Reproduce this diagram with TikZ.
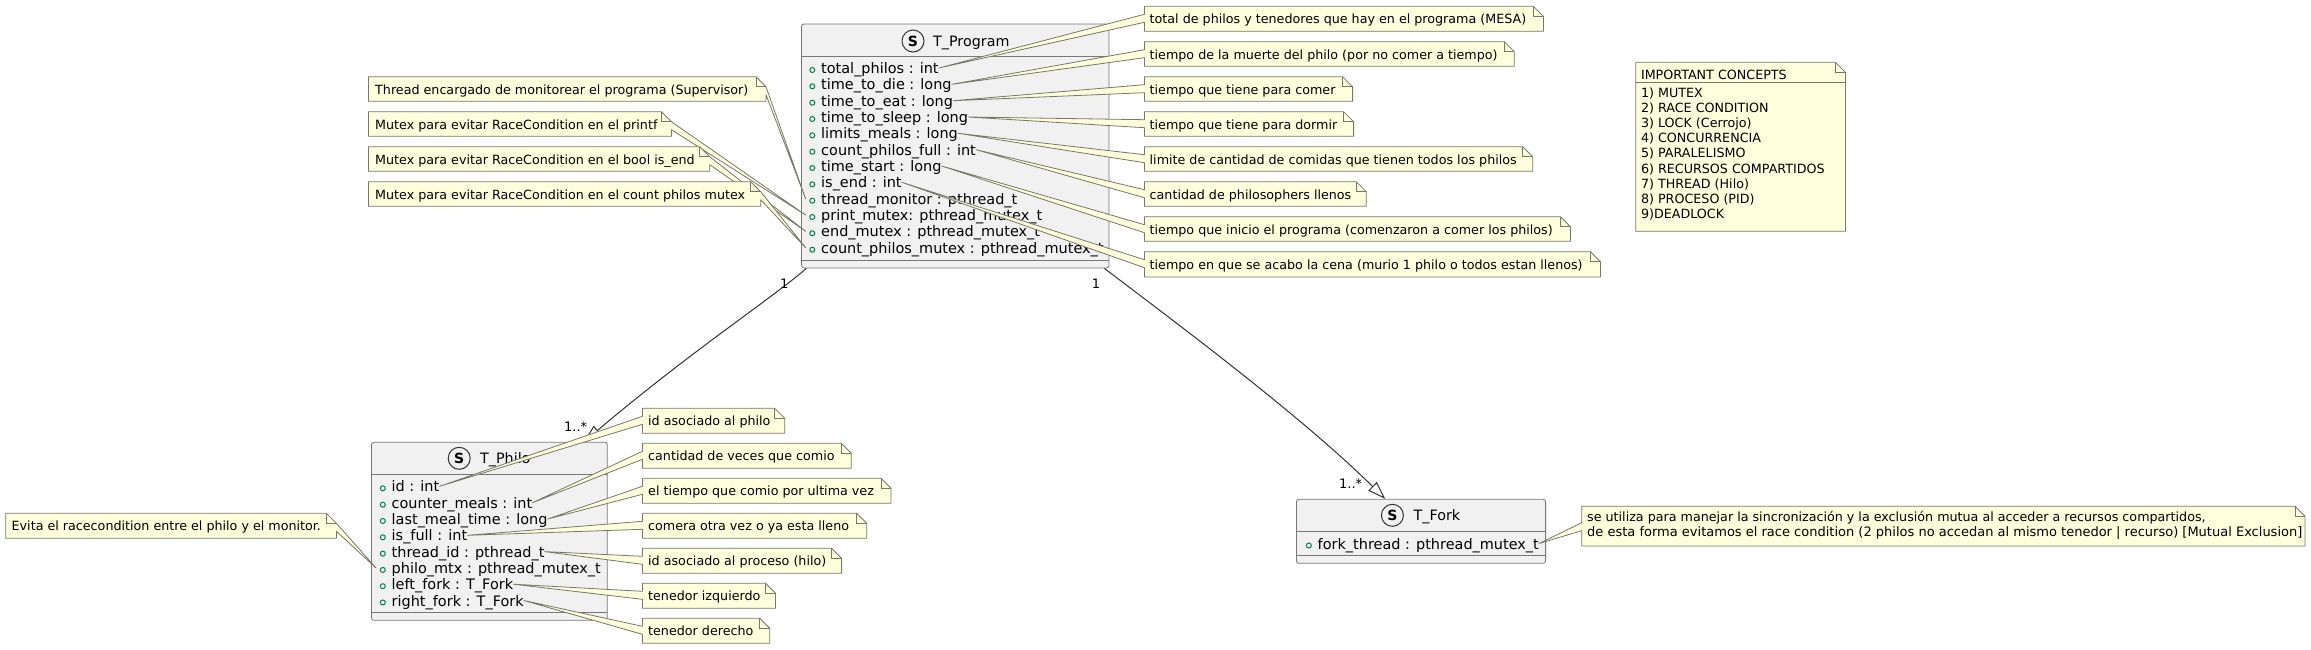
\documentclass[tikz,border=0pt]{standalone}
\usepackage{fontspec}
\usepackage{xcolor}
\usepackage{tikz}
\usetikzlibrary{arrows.meta}
\setmainfont{DejaVu Sans}
\definecolor{noteyellow}{HTML}{FEFFDD}
\definecolor{classgray}{HTML}{F1F1F1}
\definecolor{umlline}{HTML}{333333}
\definecolor{boxline}{HTML}{777777}
\definecolor{noteline}{HTML}{77776A}
\definecolor{attrgreen}{HTML}{038048}

\begin{document}
\begin{tikzpicture}[x=1pt,y=-1pt,
    classbox/.style={draw=boxline,line width=0.8pt,fill=classgray,rounded corners=2.5pt,inner sep=0pt},
    classline/.style={draw=boxline,line width=0.8pt},
    spot/.style={circle,draw=umlline,line width=1pt,minimum size=22pt,inner sep=0pt,font=\fontsize{14}{14}\selectfont\bfseries},
    classname/.style={anchor=west,inner sep=0pt,font=\fontsize{14.3}{16}\selectfont,text height=11pt,text depth=0pt},
    attrdot/.style={circle,draw=attrgreen,line width=1pt,minimum size=5pt,inner sep=0pt,xshift=-5.7pt,yshift=-2pt},
    attr/.style={anchor=west,inner sep=0pt,font=\fontsize{14.45}{16}\selectfont,text height=11pt,text depth=0pt,label={[attrdot]left:{}}},
    notebox/.style={draw=noteline,line width=0.8pt,fill=noteyellow,line join=round},
    notefold/.style={draw=noteline,line width=0.8pt},
    notetext/.style={anchor=west,inner sep=0pt,font=\fontsize{12.7}{15}\selectfont,text height=10pt,text depth=0pt},
    notelines/.style={anchor=north west,inner sep=0pt,align=left,font=\fontsize{12.7}{15.1}\selectfont},
    assoc/.style={draw=umlline,line width=1pt,-{Triangle[open,fill=white,length=18pt,width=12pt]}},
    mult/.style={inner sep=0pt,font=\fontsize{13}{15}\selectfont}]
  \useasboundingbox (0,0) rectangle (2311,649);

  % T_Program
  \node[classbox,minimum width=307.5pt,minimum height=244pt] (program) at (955.25,146) {};
  \draw[classline] (801.5,56)--(1109,56) (801.5,260)--(1109,260);
  \node[spot] (spotProgram) at (913,41) {S};
  \node[classname] (nameProgram) at (933,40.5) {T\_Program};
  \node[attr] (aTotalPhilos) at (821,68) {total\_philos : int};
  \node[attr] (aTimeDie) at (821,84.3) {time\_to\_die : long};
  \node[attr] (aTimeEat) at (821,100.7) {time\_to\_eat : long};
  \node[attr] (aTimeSleep) at (821,117) {time\_to\_sleep : long};
  \node[attr] (aLimitsMeals) at (821,133.3) {limits\_meals : long};
  \node[attr] (aCountFull) at (821,149.7) {count\_philos\_full : int};
  \node[attr] (aTimeStart) at (821,166) {time\_start : long};
  \node[attr] (aIsEnd) at (821,182.3) {is\_end : int};
  \node[attr] (aMonitor) at (821,198.7) {thread\_monitor : pthread\_t};
  \node[attr] (aPrintMutex) at (821,215) {print\_mutex: pthread\_mutex\_t};
  \node[attr] (aEndMutex) at (821,231.3) {end\_mutex : pthread\_mutex\_t};
  \node[attr] (aCountMutex) at (821,247.7) {count\_philos\_mutex : pthread\_mutex\_t};

  % T_Philo
  \node[classbox,minimum width=235.9pt,minimum height=178pt] (philo) at (489.35,531.3) {};
  \draw[classline] (371.4,474)--(607.3,474) (371.4,612.3)--(607.3,612.3);
  \node[spot] (spotPhilo) at (459.2,458.3) {S};
  \node[classname] (namePhilo) at (480,458) {T\_Philo};
  \node[attr] (aId) at (391.5,486.3) {id : int};
  \node[attr] (aCounterMeals) at (391.5,502.7) {counter\_meals : int};
  \node[attr] (aLastMeal) at (391.5,519) {last\_meal\_time : long};
  \node[attr] (aIsFull) at (391.5,535.3) {is\_full : int};
  \node[attr] (aThreadId) at (391.5,551.6) {thread\_id : pthread\_t};
  \node[attr] (aPhiloMtx) at (391.5,567.9) {philo\_mtx : pthread\_mutex\_t};
  \node[attr] (aLeftFork) at (391.5,584.2) {left\_fork : T\_Fork};
  \node[attr] (aRightFork) at (391.5,600.5) {right\_fork : T\_Fork};

  % T_Fork
  \node[classbox,minimum width=249.2pt,minimum height=64pt] (fork) at (1421,531.3) {};
  \draw[classline] (1296.4,531)--(1545.6,531) (1296.4,555.3)--(1545.6,555.3);
  \node[spot] (spotFork) at (1392.4,515.3) {S};
  \node[classname] (nameFork) at (1413.5,515) {T\_Fork};
  \node[attr] (aForkThread) at (1317.5,543.5) {fork\_thread : pthread\_mutex\_t};

  % relations
  \draw[assoc] ([xshift=5.2pt]program.south west) .. controls (775,296) and (690,352) .. ([xshift=212.9pt]philo.north west);
  \draw[assoc] ([xshift=-5pt]program.south east) .. controls (1175,322) and (1300,415) .. ([xshift=89.3pt]fork.north west);
  \node[mult] (multA) at (784.3,284) {1};
  \node[mult] (multB) at (575.7,426.7) {1..*};
  \node[mult] (multC) at (1096,284) {1};
  \node[mult] (multD) at (1350.7,484) {1..*};

  % notes T_Program, left
  \draw[notebox] (368.4,76.7)--(756,76.7)--(766,86.7)--([xshift=-15.4pt]aMonitor.west)--(766,94.7)--(766,101.3)--(368.4,101.3)--cycle;
  \draw[notefold] (756,76.7)--(756,86.7)--(766,86.7);
  \node[notetext] (nMonitor) at (375,89) {Thread encargado de monitorear el programa (Supervisor)};
  \draw[notebox] (368.4,111.7)--(661.4,111.7)--(671.4,121.7)--([xshift=-15.4pt]aPrintMutex.west)--(671.4,129.7)--(671.4,136.3)--(368.4,136.3)--cycle;
  \draw[notefold] (661.4,111.7)--(661.4,121.7)--(671.4,121.7);
  \node[notetext] (nPrint) at (375,124) {Mutex para evitar RaceCondition en el printf};
  \draw[notebox] (368.4,146.7)--(699.7,146.7)--(709.7,156.7)--([xshift=-15.4pt]aEndMutex.west)--(709.7,164.7)--(709.7,171.3)--(368.4,171.3)--cycle;
  \draw[notefold] (699.7,146.7)--(699.7,156.7)--(709.7,156.7);
  \node[notetext] (nEnd) at (375,159) {Mutex para evitar RaceCondition en el bool is\_end};
  \draw[notebox] (368.4,181.7)--(750.7,181.7)--(760.7,191.7)--([xshift=-15.4pt]aCountMutex.west)--(760.7,199.7)--(760.7,206.3)--(368.4,206.3)--cycle;
  \draw[notefold] (750.7,181.7)--(750.7,191.7)--(760.7,191.7);
  \node[notetext] (nCount) at (375,194) {Mutex para evitar RaceCondition en el count philos mutex};

  % notes T_Program, right
  \draw[notebox] (1144.4,6.3)--(1533.4,6.3)--(1543.4,16.3)--(1543.4,31.3)--(1144.4,31.3)--(1144.4,22.3)--(aTotalPhilos.east)--(1144.4,14.3)--cycle;
  \draw[notefold] (1533.4,6.3)--(1533.4,16.3)--(1543.4,16.3);
  \node[notetext] (nTotal) at (1149.5,18.8) {total de philos y tenedores que hay en el programa (MESA)};
  \draw[notebox] (1144.4,41.7)--(1504.3,41.7)--(1514.3,51.7)--(1514.3,66.3)--(1144.4,66.3)--(1144.4,57.7)--(aTimeDie.east)--(1144.4,49.7)--cycle;
  \draw[notefold] (1504.3,41.7)--(1504.3,51.7)--(1514.3,51.7);
  \node[notetext] (nDie) at (1149.5,54) {tiempo de la muerte del philo (por no comer a tiempo)};
  \draw[notebox] (1144.4,76.7)--(1342.6,76.7)--(1352.6,86.7)--(1352.6,101.3)--(1144.4,101.3)--(1144.4,92.7)--(aTimeEat.east)--(1144.4,84.7)--cycle;
  \draw[notefold] (1342.6,76.7)--(1342.6,86.7)--(1352.6,86.7);
  \node[notetext] (nEat) at (1149.5,89) {tiempo que tiene para comer};
  \draw[notebox] (1144.4,111.7)--(1343.6,111.7)--(1353.6,121.7)--(1353.6,136.3)--(1144.4,136.3)--(1144.4,127.7)--(aTimeSleep.east)--(1144.4,119.7)--cycle;
  \draw[notefold] (1343.6,111.7)--(1343.6,121.7)--(1353.6,121.7);
  \node[notetext] (nSleep) at (1149.5,124) {tiempo que tiene para dormir};
  \draw[notebox] (1144.4,146.7)--(1522.7,146.7)--(1532.7,156.7)--(1532.7,171.3)--(1144.4,171.3)--(1144.4,162.7)--(aLimitsMeals.east)--(1144.4,154.7)--cycle;
  \draw[notefold] (1522.7,146.7)--(1522.7,156.7)--(1532.7,156.7);
  \node[notetext] (nLimits) at (1149.5,159) {limite de cantidad de comidas que tienen todos los philos};
  \draw[notebox] (1144.4,181.7)--(1356.3,181.7)--(1366.3,191.7)--(1366.3,206.3)--(1144.4,206.3)--(1144.4,197.7)--(aCountFull.east)--(1144.4,189.7)--cycle;
  \draw[notefold] (1356.3,181.7)--(1356.3,191.7)--(1366.3,191.7);
  \node[notetext] (nFull) at (1149.5,194) {cantidad de philosophers llenos};
  \draw[notebox] (1144.4,216.7)--(1560.4,216.7)--(1570.4,226.7)--(1570.4,241.3)--(1144.4,241.3)--(1144.4,232.7)--(aTimeStart.east)--(1144.4,224.7)--cycle;
  \draw[notefold] (1560.4,216.7)--(1560.4,226.7)--(1570.4,226.7);
  \node[notetext] (nStart) at (1149.5,229) {tiempo que inicio el programa (comenzaron a comer los philos)};
  \draw[notebox] (1144.4,251.7)--(1590.5,251.7)--(1600.5,261.7)--(1600.5,277)--(1144.4,277)--(1144.4,267.7)--(aIsEnd.east)--(1144.4,259.7)--cycle;
  \draw[notefold] (1590.5,251.7)--(1590.5,261.7)--(1600.5,261.7);
  \node[notetext] (nIsEnd) at (1149.5,264) {tiempo en que se acabo la cena (murio 1 philo o todos estan llenos)};

  % notes T_Philo
  \draw[notebox] (5.7,513.3)--(326.4,513.3)--(336.4,523.3)--([xshift=-15.5pt]aPhiloMtx.west)--(336.4,531.3)--(336.4,538.3)--(5.7,538.3)--cycle;
  \draw[notefold] (326.4,513.3)--(326.4,523.3)--(336.4,523.3);
  \node[notetext] (nMtx) at (11.5,525.8) {Evita el racecondition entre el philo y el monitor.};
  \draw[notebox] (642.4,408.3)--(774.7,408.3)--(784.7,418.3)--(784.7,433.3)--(642.4,433.3)--(642.4,424.3)--(aId.east)--(642.4,416.3)--cycle;
  \draw[notefold] (774.7,408.3)--(774.7,418.3)--(784.7,418.3);
  \node[notetext] (nId) at (648,420.8) {id asociado al philo};
  \draw[notebox] (642.4,443.3)--(841.3,443.3)--(851.3,453.3)--(851.3,468.3)--(642.4,468.3)--(642.4,459.3)--(aCounterMeals.east)--(642.4,451.3)--cycle;
  \draw[notefold] (841.3,443.3)--(841.3,453.3)--(851.3,453.3);
  \node[notetext] (nMeals) at (648,455.8) {cantidad de veces que comio};
  \draw[notebox] (642.4,478.3)--(881,478.3)--(891,488.3)--(891,503.3)--(642.4,503.3)--(642.4,494.3)--(aLastMeal.east)--(642.4,486.3)--cycle;
  \draw[notefold] (881,478.3)--(881,488.3)--(891,488.3);
  \node[notetext] (nLast) at (648,490.8) {el tiempo que comio por ultima vez};
  \draw[notebox] (642.4,513.3)--(856.8,513.3)--(866.8,523.3)--(866.8,538.3)--(642.4,538.3)--(642.4,529.3)--(aIsFull.east)--(642.4,521.3)--cycle;
  \draw[notefold] (856.8,513.3)--(856.8,523.3)--(866.8,523.3);
  \node[notetext] (nFullPhilo) at (648,525.8) {comera otra vez o ya esta lleno};
  \draw[notebox] (642.4,548.3)--(831.6,548.3)--(841.6,558.3)--(841.6,573.3)--(642.4,573.3)--(642.4,564.3)--(aThreadId.east)--(642.4,556.3)--cycle;
  \draw[notefold] (831.6,548.3)--(831.6,558.3)--(841.6,558.3);
  \node[notetext] (nThread) at (648,560.8) {id asociado al proceso (hilo)};
  \draw[notebox] (642.4,583.3)--(765.5,583.3)--(775.5,593.3)--(775.5,608.3)--(642.4,608.3)--(642.4,599.3)--(aLeftFork.east)--(642.4,591.3)--cycle;
  \draw[notefold] (765.5,583.3)--(765.5,593.3)--(775.5,593.3);
  \node[notetext] (nLeft) at (648,595.8) {tenedor izquierdo};
  \draw[notebox] (642.4,618.3)--(759.8,618.3)--(769.8,628.3)--(769.8,643.3)--(642.4,643.3)--(642.4,634.3)--(aRightFork.east)--(642.4,626.3)--cycle;
  \draw[notefold] (759.8,618.3)--(759.8,628.3)--(769.8,628.3);
  \node[notetext] (nRight) at (648,630.8) {tenedor derecho};

  % note T_Fork
  \draw[notebox] (1581.7,506.2)--(2295,506.2)--(2305,516.2)--(2305,546)--(1581.7,546)--(1581.7,530.7)--(aForkThread.east)--(1581.7,522.7)--cycle;
  \draw[notefold] (2295,506.2)--(2295,516.2)--(2305,516.2);
  \node[notelines] (nFork) at (1587,511) {se utiliza para manejar la sincronización y la exclusión mutua al acceder a recursos compartidos,\\\fontsize{13}{15.1}\selectfont de esta forma evitamos el race condition (2 philos no accedan al mismo tenedor | recurso) [Mutual Exclusion]};

  % important concepts
  \draw[notebox] (1635.7,62.3)--(1835.4,62.3)--(1845.4,72.3)--(1845.4,231.3)--(1635.7,231.3)--cycle;
  \draw[notefold] (1835.4,62.3)--(1835.4,72.3)--(1845.4,72.3);
  \draw[notefold] (1635.7,82.3)--(1845.4,82.3);
  \node[notetext] (concTitle) at (1640.8,74.5) {IMPORTANT CONCEPTS};
  \node[notelines] (concList) at (1640.8,87.7) {1) MUTEX\\2) RACE CONDITION\\3) LOCK (Cerrojo)\\4) CONCURRENCIA\\5) PARALELISMO\\6) RECURSOS COMPARTIDOS\\7) THREAD (Hilo)\\8) PROCESO (PID)\\9)DEADLOCK};
\end{tikzpicture}
\end{document}
